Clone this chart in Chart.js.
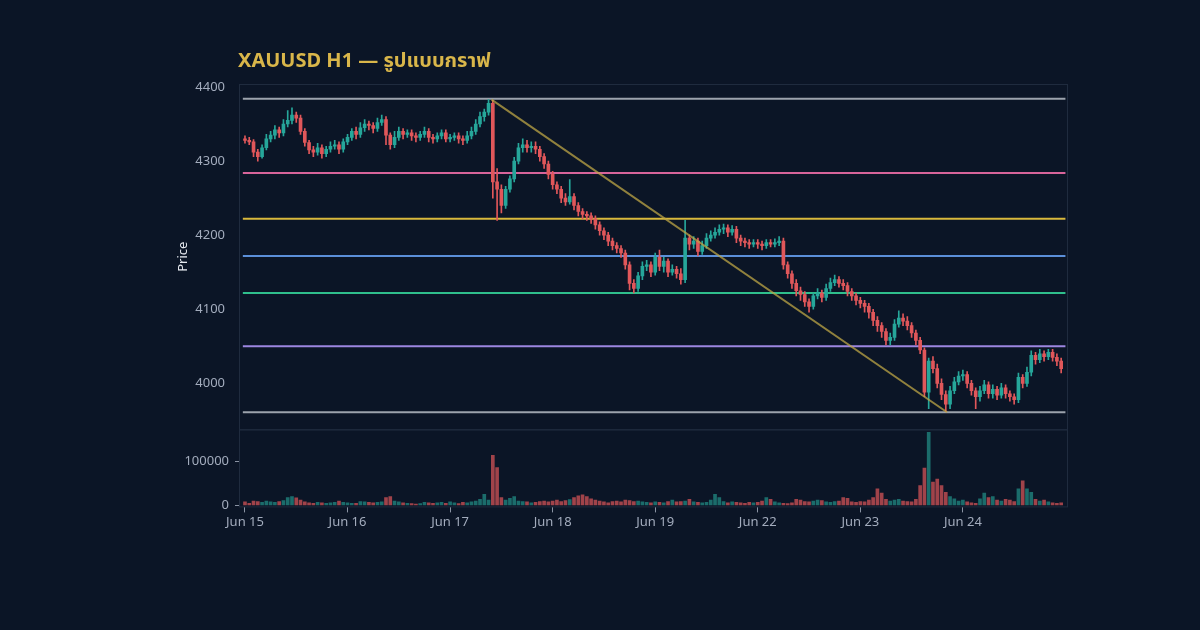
<!DOCTYPE html>
<html><head><meta charset="utf-8">
<script src="https://cdn.jsdelivr.net/npm/chart.js@4.4.1/dist/chart.umd.min.js"></script>
<style>html,body{margin:0;background:#0b1526;}#c{display:block}</style>
</head><body><canvas id="c" width="1200" height="630"></canvas>
<script>
const dayLabels = ["Jun 15","Jun 16","Jun 17","Jun 18","Jun 19","Jun 22","Jun 23","Jun 24"];
const firstOpen = 4330;
const closes = [
4328,4326,4312,4306,4318,4330,4335,4342,4338,4350,4355,4362,4358,4340,4325,4315,4312,4318,4310,4316,4320,4322,4316,4326,
4332,4340,4336,4345,4350,4348,4344,4352,4356,4335,4322,4332,4340,4336,4338,4334,4332,4336,4340,4332,4330,4334,4338,4330,
4332,4334,4330,4328,4334,4340,4350,4360,4366,4378,4272,4262,4240,4262,4276,4300,4318,4322,4318,4320,4316,4306,4296,4282,
4268,4262,4250,4245,4252,4240,4232,4228,4226,4222,4214,4206,4200,4192,4186,4182,4176,4160,4135,4128,4145,4158,4160,4150,
4170,4158,4165,4150,4154,4148,4140,4196,4188,4192,4178,4186,4196,4200,4204,4208,4210,4204,4208,4196,4192,4190,4188,4190,
4188,4186,4190,4188,4190,4192,4160,4148,4135,4125,4120,4110,4104,4118,4122,4116,4128,4136,4140,4135,4132,4124,4118,4112,
4108,4104,4096,4085,4078,4070,4058,4062,4080,4088,4084,4078,4068,4058,4045,3988,4030,4020,4000,3985,3972,3990,4002,4010,
4012,4000,3990,3982,3990,3998,3986,3992,3984,3994,3986,3982,3978,4008,4000,4015,4038,4032,4040,4036,4042,4035,4030,4020];
const highs = [
4334,4332,4329,4316,4322,4336,4340,4348,4346,4356,4368,4372,4366,4362,4344,4328,4320,4324,4322,4320,4326,4328,4326,4330,
4336,4344,4346,4352,4356,4354,4352,4358,4362,4360,4338,4340,4346,4344,4342,4342,4338,4340,4346,4344,4336,4338,4342,4342,
4336,4338,4338,4334,4340,4346,4356,4366,4370,4383,4382,4290,4268,4266,4280,4305,4324,4330,4328,4326,4326,4320,4310,4300,
4286,4272,4266,4256,4275,4256,4244,4236,4232,4230,4226,4218,4210,4204,4196,4190,4186,4180,4164,4140,4150,4164,4166,4164,
4176,4180,4170,4168,4160,4158,4155,4220,4200,4198,4196,4192,4202,4206,4210,4214,4215,4214,4213,4212,4200,4196,4194,4194,
4194,4192,4194,4194,4195,4198,4196,4164,4152,4140,4130,4124,4114,4122,4128,4126,4134,4142,4146,4144,4140,4136,4128,4122,
4116,4112,4108,4100,4090,4082,4074,4068,4086,4098,4094,4090,4082,4072,4062,4048,4034,4036,4026,4006,3990,3996,4008,4016,
4018,4016,4004,3994,3996,4004,4002,3998,3996,4000,3998,3990,3986,4014,4012,4022,4044,4042,4046,4044,4046,4046,4040,4034];
const lows = [
4324,4322,4306,4300,4304,4315,4326,4330,4332,4334,4346,4350,4352,4336,4320,4310,4306,4308,4304,4306,4312,4316,4310,4312,
4322,4328,4330,4332,4340,4342,4338,4340,4348,4322,4316,4318,4328,4330,4332,4328,4326,4328,4332,4326,4324,4326,4330,4326,
4326,4328,4324,4322,4324,4330,4336,4346,4354,4362,4250,4220,4230,4236,4258,4272,4296,4312,4312,4312,4310,4300,4290,4276,
4262,4256,4244,4240,4242,4234,4226,4222,4220,4216,4208,4200,4194,4186,4180,4176,4170,4154,4126,4122,4124,4140,4152,4144,
4146,4152,4150,4144,4146,4142,4134,4136,4180,4182,4172,4174,4182,4192,4196,4200,4202,4198,4200,4190,4186,4184,4182,4184,
4182,4180,4182,4184,4184,4186,4154,4142,4128,4118,4112,4104,4096,4100,4114,4110,4112,4124,4132,4130,4126,4118,4112,4106,
4102,4096,4088,4078,4070,4062,4052,4052,4058,4076,4078,4072,4062,4052,4040,3982,3966,4014,3994,3978,3962,3966,3986,3998,
4004,3994,3984,3966,3976,3986,3980,3980,3978,3980,3980,3976,3972,3974,3994,3996,4010,4026,4028,4030,4032,4030,4024,4014];
const volumes = [
8,5,10,9,7,10,8,7,9,11,18,20,17,12,8,6,5,7,6,5,6,7,10,7,
6,5,5,9,8,7,6,7,8,18,20,10,8,6,5,4,3,4,7,6,5,6,7,5,
8,6,4,7,6,8,10,14,25,12,114,86,18,12,16,20,10,9,8,6,7,9,10,8,
10,12,9,11,13,18,22,24,20,15,12,10,8,6,9,10,8,12,11,9,10,8,7,6,
8,7,6,9,12,8,9,10,14,8,7,6,7,12,25,18,9,6,8,7,6,5,7,6,
7,10,18,14,8,6,5,4,6,14,12,9,8,10,12,11,8,7,9,10,18,16,8,7,
9,8,12,18,38,28,14,10,12,14,10,9,8,14,45,85,166,53,60,45,30,20,15,10,
12,8,6,5,15,28,18,20,12,10,14,12,9,38,56,38,30,14,10,12,8,6,5,6].map(v=>v*1000);
const levelPrices = [4384,4284,4222,4172,4122,4050,3961];
const levelColors = ["#9ca3ad","#d8649a","#d9b93c","#5b8fd9","#2fbf8c","#9c86e0","#9ca3ad"];
const trendStart = {i:57.7, p:4383}, trendEnd = {i:164.3, p:3961};

const UP="#26a69a", DN="#e0575a";
const opens = closes.map((c,i)=> i===0 ? firstOpen : closes[i-1]);
const col = closes.map((c,i)=> c>=opens[i] ? UP : DN);
const XMIN=-1.4, XMAX=192.6;
Chart.defaults.font.family = "'Noto Sans', sans-serif";

const datasets = [];
levelPrices.forEach((p,k)=>datasets.push({type:'line',data:[{x:XMIN+0.9,y:p},{x:XMAX-0.6,y:p}],borderColor:levelColors[k],borderWidth:2,pointRadius:0,yAxisID:'y',order:5}));
datasets.push({type:'line',data:[{x:trendStart.i,y:trendStart.p},{x:trendEnd.i,y:trendEnd.p}],borderColor:"rgba(190,165,70,0.75)",borderWidth:2,pointRadius:0,yAxisID:'y',order:0});
datasets.push({type:'bar',data:closes.map((c,i)=>({x:i,y:[lows[i],highs[i]]})),backgroundColor:col,barThickness:1,grouped:false,yAxisID:'y',order:2});
datasets.push({type:'bar',data:closes.map((c,i)=>({x:i,y:[opens[i],c]})),backgroundColor:col,barThickness:3,minBarLength:1,grouped:false,yAxisID:'y',order:1});
datasets.push({type:'bar',data:volumes.map((v,i)=>({x:i,y:v})),backgroundColor:col.map(c=>c===UP?"rgba(38,166,154,0.6)":"rgba(224,87,90,0.7)"),barThickness:3,grouped:false,yAxisID:'yv',order:3});

const deco = {id:'deco',
 beforeDraw(ch){const c=ch.ctx;c.save();c.fillStyle="#0b1526";c.fillRect(0,0,ch.width,ch.height);c.restore();},
 afterDraw(ch){const c=ch.ctx,a=ch.chartArea,y=ch.scales.y,v=ch.scales.yv;c.save();
  c.strokeStyle="#1f2b3e";c.lineWidth=1;
  c.strokeRect(a.left+0.5,y.top+0.5,a.right-a.left-1,y.bottom-y.top);
  c.strokeRect(a.left+0.5,v.top+0.5,a.right-a.left-1,v.bottom-v.top-1);
  c.fillStyle="#d9b64a";c.font="bold 20px 'Noto Sans','Noto Sans Thai',sans-serif";c.textBaseline="alphabetic";
  c.fillText("XAUUSD H1 — รูปแบบกราฟ",238,67);
  c.translate(183,(y.top+y.bottom)/2);c.rotate(-Math.PI/2);c.fillStyle="#e6e9ef";c.font="13px 'Noto Sans',sans-serif";
  c.textAlign="center";c.textBaseline="middle";c.fillText("Price",0,0);
  c.restore();}};

new Chart(document.getElementById('c'),{
 data:{datasets},
 options:{responsive:false,animation:false,devicePixelRatio:1,
  layout:{padding:{left:0,right:132,top:84,bottom:98}},
  plugins:{legend:{display:false},tooltip:{enabled:false}},
  scales:{
   x:{type:'linear',min:XMIN,max:XMAX,offset:false,
      afterBuildTicks:s=>{s.ticks=dayLabels.map((d,k)=>({value:k*24}));},
      ticks:{color:"#a3acbd",font:{size:13},callback:(v)=>dayLabels[v/24]??'',maxRotation:0,autoSkip:false,padding:2},
      grid:{display:true,offset:false,drawOnChartArea:false,color:"#8a93a3",tickLength:5},border:{display:false}},
   yv:{type:'linear',position:'left',stack:'p',stackWeight:78,offset:false,min:-4500,max:173000,
      afterBuildTicks:s=>{s.ticks=[0,100000].map(v=>({value:v}));},
      afterFit:s=>{s.width=239;},
      ticks:{color:"#a3acbd",font:{size:13},padding:6,callback:v=>String(v)},grid:{display:true,offset:false,drawOnChartArea:false,color:"#8a93a3",tickLength:4},border:{display:false}},
   y:{type:'linear',position:'left',stack:'p',stackWeight:345,min:3938,max:4404,
      afterBuildTicks:s=>{s.ticks=[4000,4100,4200,4300,4400].map(v=>({value:v}));},
      afterFit:s=>{s.width=239;},
      ticks:{color:"#a3acbd",font:{size:13},padding:6,callback:v=>String(v)},grid:{display:false},border:{display:false}}
  }},
 plugins:[deco]});
</script></body></html>
